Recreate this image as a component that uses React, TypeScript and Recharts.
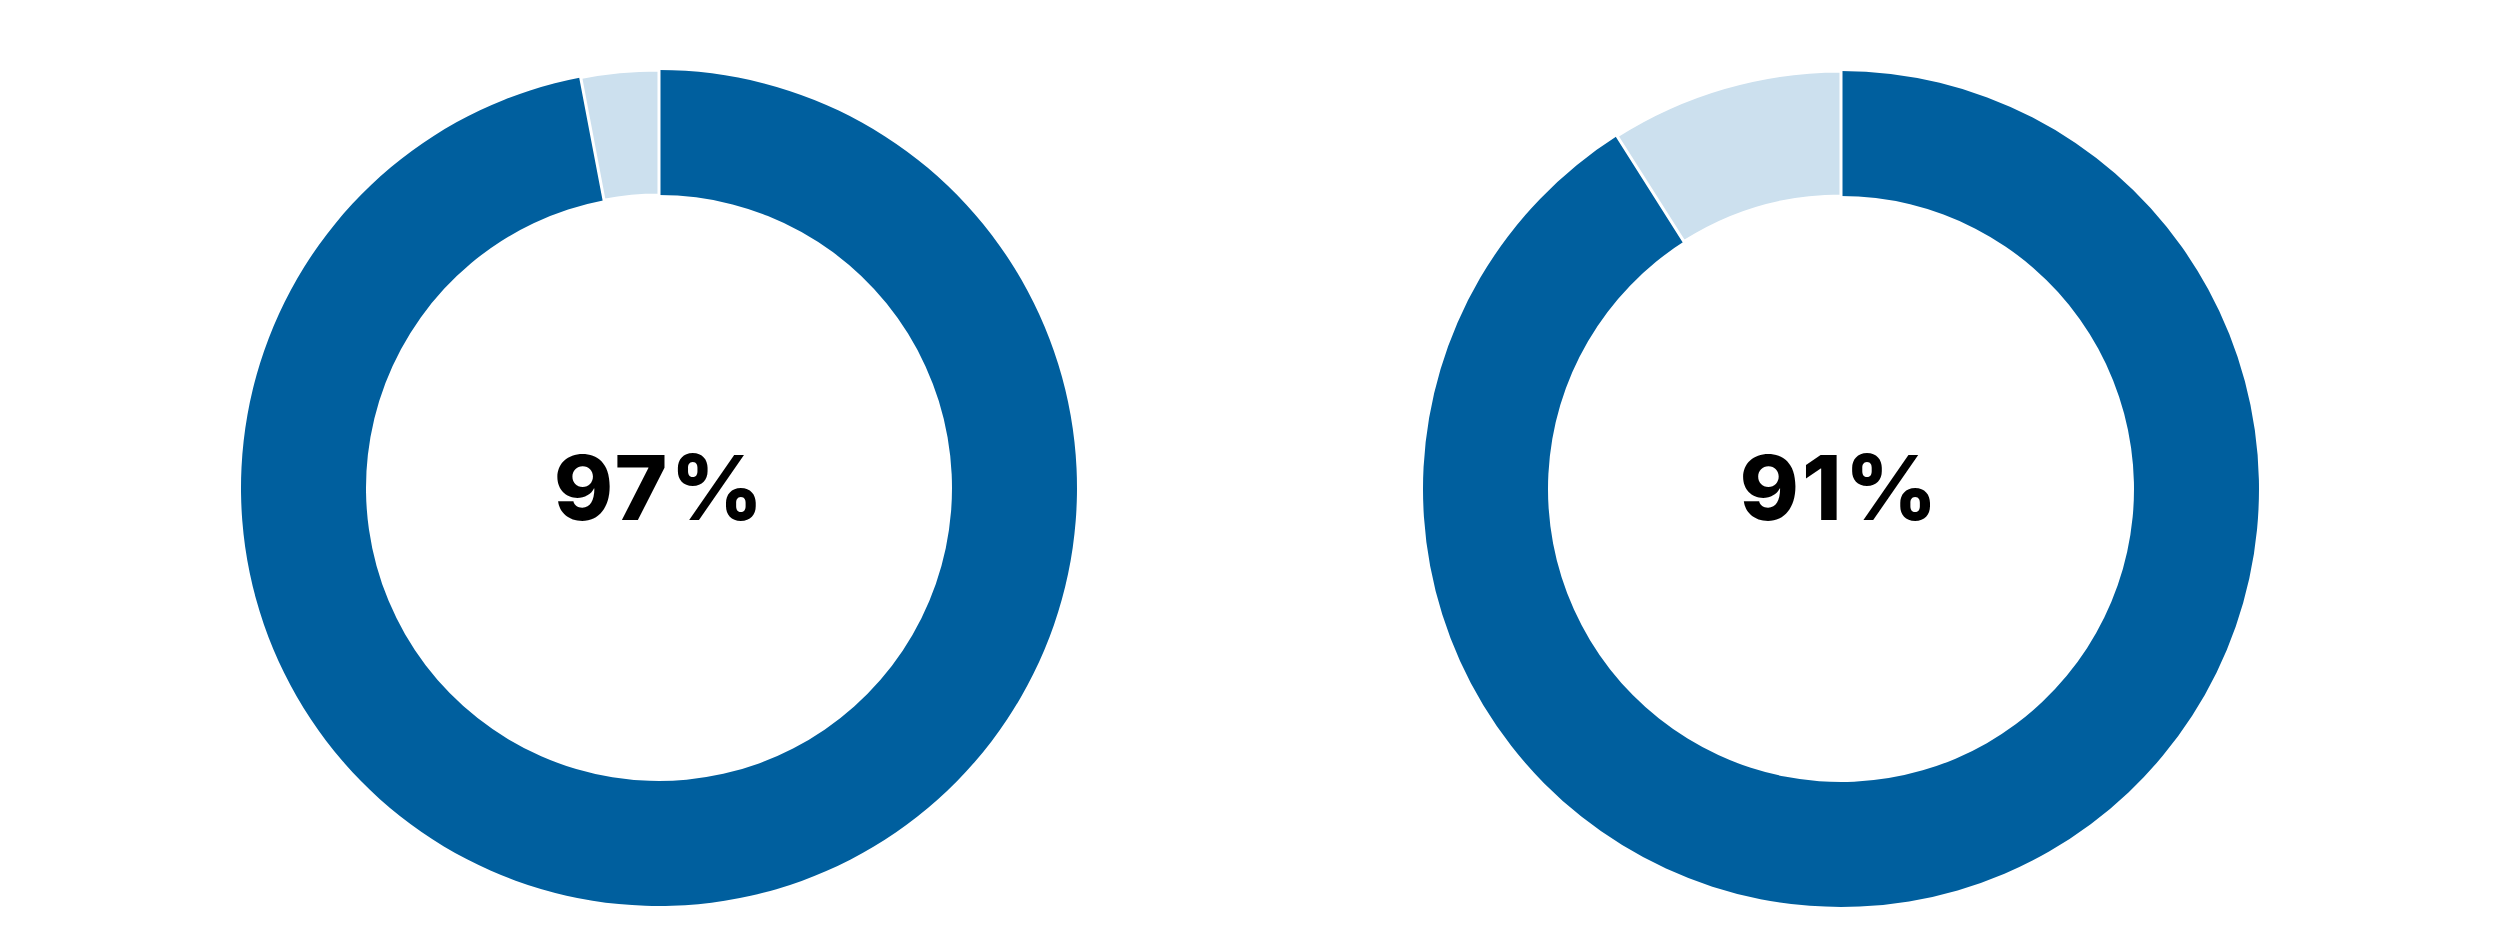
import { PieChart, Pie, Cell } from 'recharts'

const segmentNames = ['Yes', 'No']
const leftValues = [97, 3]
const rightValues = [91, 9]
const centerLabels = ['97%', '91%']

const colors = {
  dark: '#005F9E',
  light: '#CCE0EE',
}

const toData = (values: number[]) =>
  values.map((value, i) => ({ name: segmentNames[i], value }))

const donuts = [
  { data: toData(leftValues), cx: 654, cy: 483, labelX: 660 },
  { data: toData(rightValues), cx: 1836, cy: 484, labelX: 1840 },
]

export default function App() {
  return (
    <div style={{ position: 'absolute', left: 0, top: 0, width: 2500, height: 949, background: '#fff' }}>
      <PieChart width={2500} height={949}>
        {donuts.map((d, idx) => (
          <Pie
            key={idx}
            data={d.data}
            dataKey="value"
            nameKey="name"
            cx={d.cx}
            cy={d.cy}
            innerRadius={293}
            outerRadius={418}
            startAngle={90}
            endAngle={-270}
            isAnimationActive={false}
            stroke="none"
          >
            {d.data.map((entry, i) => (
              <Cell
                key={`cell-${i}`}
                fill={i === 0 ? colors.dark : colors.light}
                stroke={i === 0 ? 'none' : '#ffffff'}
                strokeWidth={i === 0 ? 0 : 3}
              />
            ))}
          </Pie>
        ))}
      </PieChart>
      <svg width={2500} height={949} style={{ position: 'absolute', left: 0, top: 0, pointerEvents: 'none' }}>
        {donuts.map((d, idx) => (
          <text
            key={idx}
            x={d.labelX}
            y={520}
            textAnchor="middle"
            fontFamily="Inter, 'Noto Sans', sans-serif"
            fontWeight={800}
            fontSize={90}
            letterSpacing={3}
            fill="#000"
          >
            {centerLabels[idx]}
          </text>
        ))}
      </svg>
    </div>
  )
}
